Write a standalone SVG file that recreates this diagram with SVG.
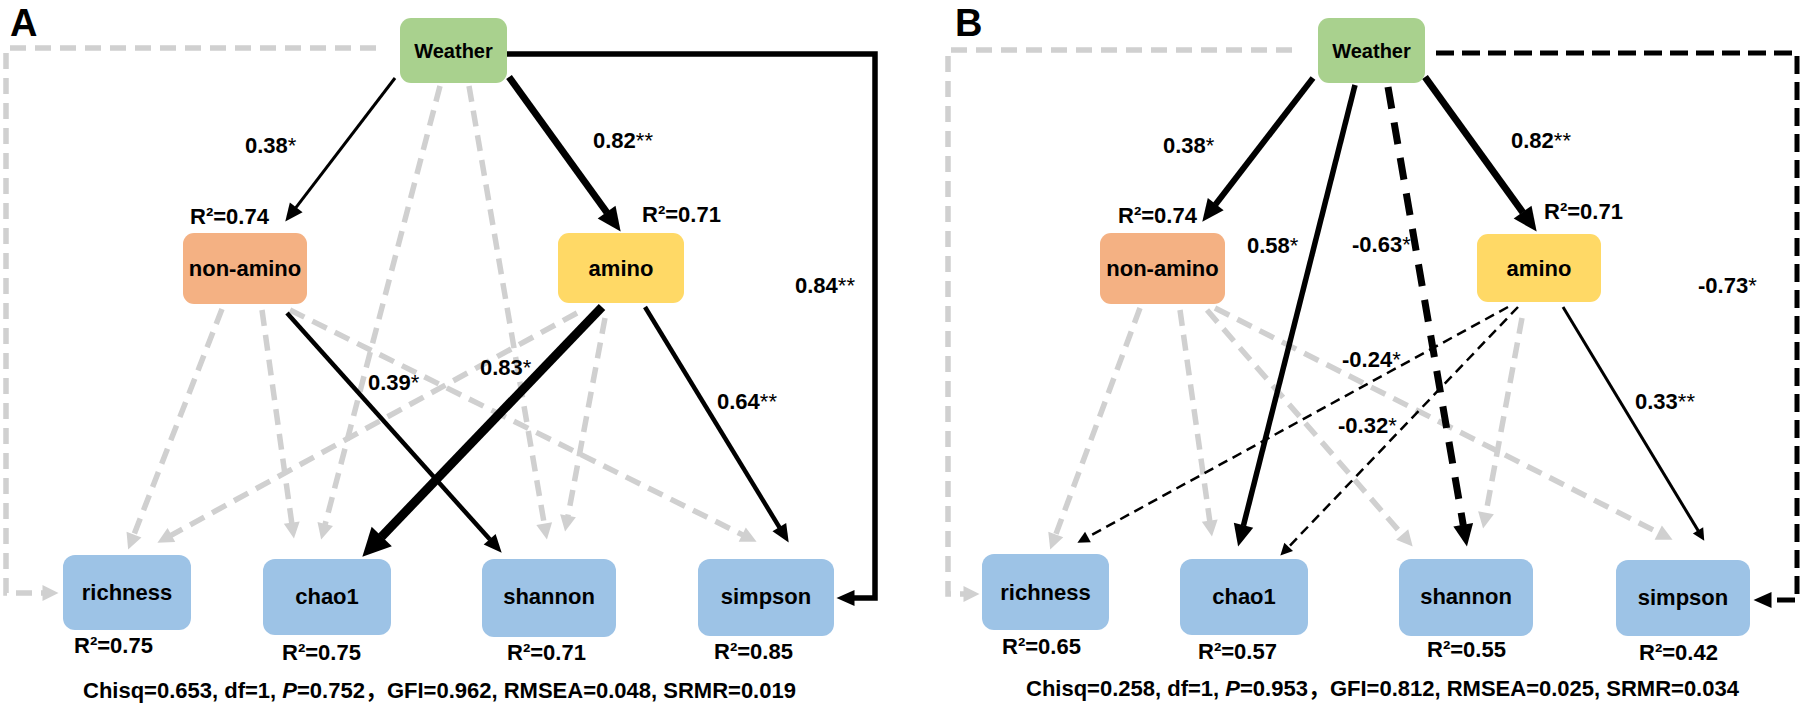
<svg xmlns="http://www.w3.org/2000/svg" width="1803" height="710" viewBox="0 0 1803 710">
<style>
.bg{fill:#ffffff}
text{font-family:"Liberation Sans","Noto Sans CJK SC",Arial,sans-serif;font-weight:bold;fill:#000}
.nl{font-size:22px;text-anchor:middle}
.wl{font-size:20px;text-anchor:middle}
.lb{font-size:22px}
.pl{font-size:38px}
.st{font-weight:normal}
.it{font-style:italic}
.box{stroke:none}
.w{fill:#A9D18E}
.na{fill:#F4B183}
.am{fill:#FFD966}
.bl{fill:#9DC3E6}
.g{fill:none;stroke:#D0D0D0;stroke-width:5.5;stroke-dasharray:16 9;marker-end:url(#ahg)}
.k{fill:none;stroke:#000}
</style>
<defs>
<marker id="ahg" markerUnits="userSpaceOnUse" markerWidth="17" markerHeight="16" refX="0.5" refY="8" orient="auto" overflow="visible"><path d="M0,0 L16,8 L0,16 z" fill="#D0D0D0"/></marker>
<marker id="ahs" markerUnits="userSpaceOnUse" markerWidth="19" markerHeight="16" refX="0.5" refY="8" orient="auto" overflow="visible"><path d="M0,0 L18,8 L0,16 z" fill="#000"/></marker>
<marker id="ahm" markerUnits="userSpaceOnUse" markerWidth="23" markerHeight="20" refX="0.5" refY="10" orient="auto" overflow="visible"><path d="M0,0 L22,10 L0,20 z" fill="#000"/></marker>
<marker id="ahl" markerUnits="userSpaceOnUse" markerWidth="25" markerHeight="22" refX="0.5" refY="11" orient="auto" overflow="visible"><path d="M0,0 L24,11 L0,22 z" fill="#000"/></marker>
<marker id="ahx" markerUnits="userSpaceOnUse" markerWidth="29" markerHeight="28" refX="0.5" refY="14" orient="auto" overflow="visible"><path d="M0,0 L28,14 L0,28 z" fill="#000"/></marker>
<marker id="aht" markerUnits="userSpaceOnUse" markerWidth="13" markerHeight="12" refX="0.5" refY="6" orient="auto" overflow="visible"><path d="M0,0 L12,6 L0,12 z" fill="#000"/></marker>
</defs>
<rect class="bg" x="0" y="0" width="1803" height="710"/>

<!-- Panel A connectors -->
<g id="connectors-A">
<path class="g" d="M376,48 H6 V593 H43"/>
<path class="g" d="M440,86 L325.1,524.5"/>
<path class="g" d="M469,86 L544.3,524.2"/>
<path class="g" d="M222,309 L133.8,535.1"/>
<path class="g" d="M262,310 L291.8,523.2"/>
<path class="g" d="M290,310 L742.7,534.9"/>
<path class="g" d="M577,313 L171,535.3"/>
<path class="g" d="M605,318 L567.9,516.3"/>
<path class="k" stroke-width="3" marker-end="url(#ahs)" d="M395,78 L295.9,207.7"/>
<path class="k" stroke-width="7" marker-end="url(#ahl)" d="M509,77 L606.9,212.5"/>
<path class="k" stroke-width="5.5" marker-end="url(#ahs)" d="M507,54 H875 V598 H854"/>
<path class="k" stroke-width="4.5" marker-end="url(#ahs)" d="M287,313 L490,539.6"/>
<path class="k" stroke-width="9" marker-end="url(#ahx)" d="M602,307 L381.4,536.8"/>
<path class="k" stroke-width="4.5" marker-end="url(#ahs)" d="M645,307 L779.6,527.6"/>
</g>

<!-- Panel B connectors -->
<g id="connectors-B">
<path class="g" d="M1292,50 H948 V594 H964"/>
<path class="g" d="M1140,308 L1055.6,535"/>
<path class="g" d="M1180,310 L1209.8,521.2"/>
<path class="g" d="M1207,310 L1402.5,534.9"/>
<path class="g" d="M1215,308 L1658.7,532.8"/>
<path class="g" d="M1522,318 L1485.9,513.3"/>
<path class="k" stroke-width="6" marker-end="url(#ahm)" d="M1313,78 L1215.4,204.6"/>
<path class="k" stroke-width="7" marker-end="url(#ahl)" d="M1425,77 L1522.9,212.5"/>
<path class="k" stroke-width="5.5" marker-end="url(#ahm)" d="M1355,85 L1243.4,525.7"/>
<path class="k" stroke-width="7" stroke-dasharray="22 14" marker-end="url(#ahm)" d="M1388,87 L1463.3,525.3"/>
<path class="k" stroke-width="5" stroke-dasharray="18 8" marker-end="url(#ahs)" d="M1436,53 H1797 V600 H1771"/>
<path class="k" stroke-width="2.5" stroke-dasharray="10 6" marker-end="url(#aht)" d="M1508,307 L1087.5,537.2"/>
<path class="k" stroke-width="2.5" stroke-dasharray="10 6" marker-end="url(#aht)" d="M1518,307 L1288.3,547.3"/>
<path class="k" stroke-width="3" marker-end="url(#aht)" d="M1563,307 L1698.3,530.9"/>
</g>

<!-- Panel A nodes -->
<g id="A-weather"><rect class="box w" x="400" y="18" width="107" height="65" rx="11"/><text class="wl" x="453.5" y="58">Weather</text></g>
<g id="A-nonamino"><rect class="box na" x="183" y="233" width="124" height="71" rx="11"/><text class="nl" x="245" y="276">non-amino</text></g>
<g id="A-amino"><rect class="box am" x="558" y="233" width="126" height="70" rx="11"/><text class="nl" x="621" y="276">amino</text></g>
<g id="A-richness"><rect class="box bl" x="63" y="555" width="128" height="75" rx="12"/><text class="nl" x="127" y="600">richness</text></g>
<g id="A-chao1"><rect class="box bl" x="263" y="559" width="128" height="76" rx="12"/><text class="nl" x="327" y="604">chao1</text></g>
<g id="A-shannon"><rect class="box bl" x="482" y="559" width="134" height="78" rx="12"/><text class="nl" x="549" y="604">shannon</text></g>
<g id="A-simpson"><rect class="box bl" x="698" y="559" width="136" height="77" rx="12"/><text class="nl" x="766" y="604">simpson</text></g>

<!-- Panel B nodes -->
<g id="B-weather"><rect class="box w" x="1318" y="18" width="107" height="65" rx="11"/><text class="wl" x="1371.5" y="58">Weather</text></g>
<g id="B-nonamino"><rect class="box na" x="1100" y="233" width="125" height="71" rx="11"/><text class="nl" x="1162.5" y="276">non-amino</text></g>
<g id="B-amino"><rect class="box am" x="1477" y="234" width="124" height="68" rx="11"/><text class="nl" x="1539" y="276">amino</text></g>
<g id="B-richness"><rect class="box bl" x="982" y="554" width="127" height="76" rx="12"/><text class="nl" x="1045.5" y="600">richness</text></g>
<g id="B-chao1"><rect class="box bl" x="1180" y="559" width="128" height="76" rx="12"/><text class="nl" x="1244" y="604">chao1</text></g>
<g id="B-shannon"><rect class="box bl" x="1399" y="559" width="134" height="77" rx="12"/><text class="nl" x="1466" y="604">shannon</text></g>
<g id="B-simpson"><rect class="box bl" x="1616" y="560" width="134" height="76" rx="12"/><text class="nl" x="1683" y="605">simpson</text></g>

<!-- Labels A -->
<g id="labels-A">
<text class="pl" x="10" y="36">A</text>
<text class="lb" x="245" y="153">0.38<tspan class="st">*</tspan></text>
<text class="lb" x="190" y="224">R²=0.74</text>
<text class="lb" x="593" y="148">0.82<tspan class="st">**</tspan></text>
<text class="lb" x="642" y="222">R²=0.71</text>
<text class="lb" x="795" y="293">0.84<tspan class="st">**</tspan></text>
<text class="lb" x="368" y="390">0.39<tspan class="st">*</tspan></text>
<text class="lb" x="480" y="375">0.83<tspan class="st">*</tspan></text>
<text class="lb" x="717" y="409">0.64<tspan class="st">**</tspan></text>
<text class="lb" x="74" y="653">R²=0.75</text>
<text class="lb" x="282" y="660">R²=0.75</text>
<text class="lb" x="507" y="660">R²=0.71</text>
<text class="lb" x="714" y="659">R²=0.85</text>
<text class="lb" x="83" y="698">Chisq=0.653, df=1, <tspan class="it">P</tspan>=0.752，GFI=0.962, RMSEA=0.048, SRMR=0.019</text>
</g>

<!-- Labels B -->
<g id="labels-B">
<text class="pl" x="955" y="36">B</text>
<text class="lb" x="1163" y="153">0.38<tspan class="st">*</tspan></text>
<text class="lb" x="1118" y="223">R²=0.74</text>
<text class="lb" x="1247" y="253">0.58<tspan class="st">*</tspan></text>
<text class="lb" x="1352" y="252">-0.63<tspan class="st">*</tspan></text>
<text class="lb" x="1511" y="148">0.82<tspan class="st">**</tspan></text>
<text class="lb" x="1544" y="219">R²=0.71</text>
<text class="lb" x="1698" y="293">-0.73<tspan class="st">*</tspan></text>
<text class="lb" x="1342" y="367">-0.24<tspan class="st">*</tspan></text>
<text class="lb" x="1338" y="433">-0.32<tspan class="st">*</tspan></text>
<text class="lb" x="1635" y="409">0.33<tspan class="st">**</tspan></text>
<text class="lb" x="1002" y="654">R²=0.65</text>
<text class="lb" x="1198" y="659">R²=0.57</text>
<text class="lb" x="1427" y="657">R²=0.55</text>
<text class="lb" x="1639" y="660">R²=0.42</text>
<text class="lb" x="1026" y="696">Chisq=0.258, df=1, <tspan class="it">P</tspan>=0.953，GFI=0.812, RMSEA=0.025, SRMR=0.034</text>
</g>
</svg>
